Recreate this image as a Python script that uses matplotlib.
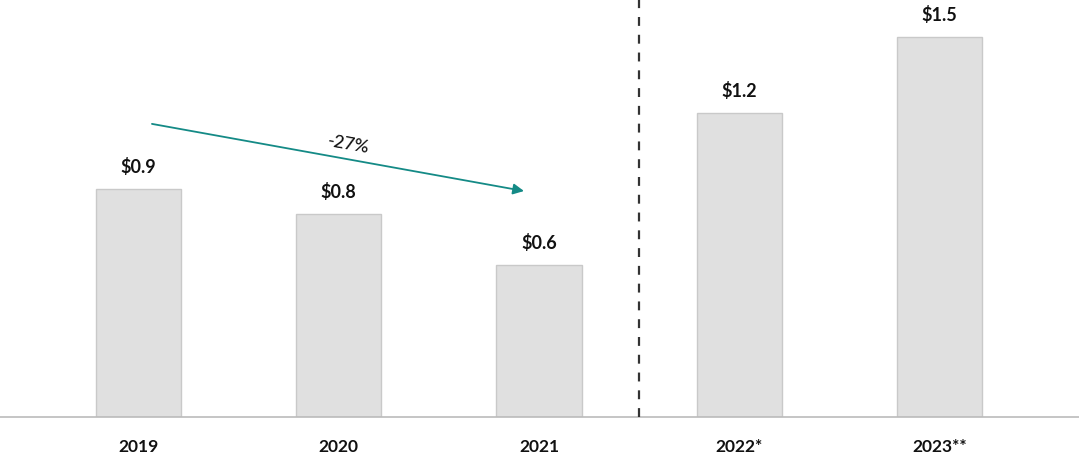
import matplotlib.pyplot as plt

# data
years = ['2019', '2020', '2021', '2022*', '2023**']
values = [0.9, 0.8, 0.6, 1.2, 1.5]
labels = ['$0.9', '$0.8', '$0.6', '$1.2', '$1.5']
change_text = '-27%'

plt.rcParams['font.family'] = ['Lato', 'DejaVu Sans']

fig = plt.figure(figsize=(10.79, 4.6), dpi=100)
ax = fig.add_axes([0, 42 / 460, 1, 418 / 460])

x = list(range(len(years)))
ax.bar(x, values, width=0.425, color='#e0e0e0', edgecolor='#c9c9c9', linewidth=1, zorder=2)

# value labels above bars
for xi, v, lab in zip(x, values, labels):
    ax.annotate(lab, (xi, v), xytext=(0, 10), textcoords='offset points',
                ha='center', va='bottom', fontsize=13, fontweight='bold', color='#111111')

# separator between actuals and estimates
ax.axvline(2.5, color='#333333', linestyle=(0, (4, 4)), linewidth=1.6, zorder=3)

# trend arrow 2019 -> 2021
ax.annotate('', xy=(1.925, 0.892), xytext=(0.067, 1.157),
            arrowprops=dict(arrowstyle='-|>', color='#148a86', lw=1.3,
                            mutation_scale=16, shrinkA=0, shrinkB=0))
ax.text(1.05, 1.08, change_text, rotation=-10, ha='center', va='center',
        fontsize=13, fontweight='medium', color='#111111')

ax.set_xlim(-0.692, 4.697)
ax.set_ylim(0, 1.65)
ax.set_xticks(x)
ax.set_xticklabels(years, fontsize=12.5, fontweight='bold', color='#111111')
ax.tick_params(axis='x', length=0, pad=15)
ax.set_yticks([])
for side in ['top', 'left', 'right']:
    ax.spines[side].set_visible(False)
ax.spines['bottom'].set_color('#bbbbbb')
ax.spines['bottom'].set_linewidth(1.2)

fig.savefig('out.png', dpi=100)
